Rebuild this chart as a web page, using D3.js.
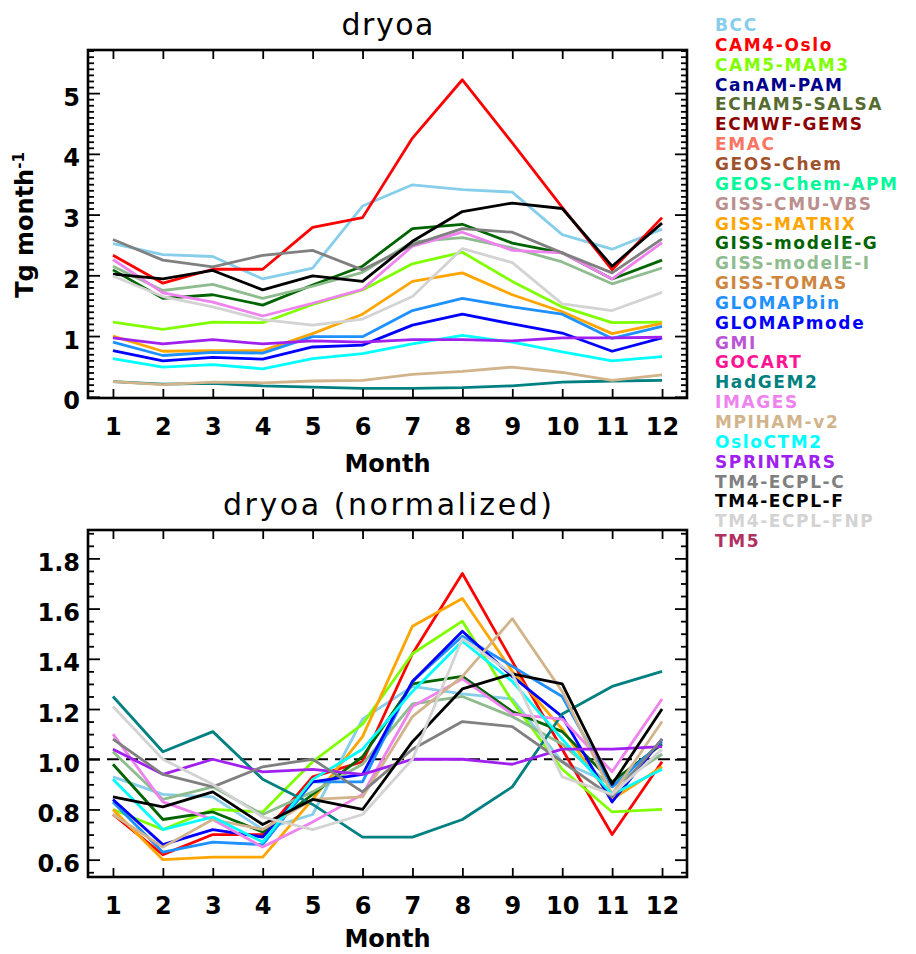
<!DOCTYPE html>
<meta charset="utf-8">
<style>
    body {
        margin: 0;
        background: #fff;
    }

    text {
        font-family: "DejaVu Sans", sans-serif;
        fill: #000;
    }

    .axis path {
        display: none;
    }

    .axis line {
        stroke: #000;
        stroke-width: 1.8;
    }

    .axis .tick text {
        font-size: 24px;
        font-weight: bold;
    }

    .frame {
        fill: none;
        stroke: #000;
        stroke-width: 2.6;
    }

    .series {
        fill: none;
        stroke-width: 2.8;
        stroke-linejoin: round;
    }
</style>

<body>
    <svg width="916" height="954"></svg>
    <script src="https://cdn.jsdelivr.net/npm/d3@7"></script>
    <script>
        // months on the x axis
        var months = [1, 2, 3, 4, 5, 6, 7, 8, 9, 10, 11, 12];

        // legend (all models) and their colours
        var modelNames = ["BCC", "CAM4-Oslo", "CAM5-MAM3", "CanAM-PAM", "ECHAM5-SALSA", "ECMWF-GEMS",
            "EMAC", "GEOS-Chem", "GEOS-Chem-APM", "GISS-CMU-VBS", "GISS-MATRIX", "GISS-modelE-G",
            "GISS-modelE-I", "GISS-TOMAS", "GLOMAPbin", "GLOMAPmode", "GMI", "GOCART", "HadGEM2",
            "IMAGES", "MPIHAM-v2", "OsloCTM2", "SPRINTARS", "TM4-ECPL-C", "TM4-ECPL-F", "TM4-ECPL-FNP", "TM5"
        ];
        var modelColors = ["#87ceeb", "#ff0000", "#7fff00", "#00008b", "#556b2f", "#8b0000",
            "#fa7464", "#a0522d", "#00fa9a", "#bc8f8f", "#ffa500", "#006400",
            "#8fbc8f", "#cd853f", "#1e90ff", "#0000ff", "#ba55d3", "#ff1493", "#008080",
            "#ee82ee", "#d2b48c", "#00ffff", "#a020f0", "#808080", "#000000", "#d3d3d3", "#b03060"
        ];

        // monthly dryoa, Tg month-1 (top panel)
        var bcc = [2.52, 2.34, 2.31, 1.94, 2.12, 3.14, 3.49, 3.41, 3.37, 2.67, 2.43, 2.76];
        var cam4 = [2.33, 1.87, 2.10, 2.10, 2.79, 2.95, 4.26, 5.22, 4.18, 3.12, 2.09, 2.95];
        var cam5 = [1.23, 1.11, 1.23, 1.22, 1.52, 1.76, 2.19, 2.38, 1.90, 1.48, 1.22, 1.23];
        var gissMatrix = [1.00, 0.75, 0.76, 0.76, 1.04, 1.36, 1.90, 2.04, 1.68, 1.40, 1.04, 1.21];
        var gissG = [2.09, 1.62, 1.68, 1.51, 1.84, 2.15, 2.77, 2.84, 2.53, 2.37, 1.94, 2.25];
        var gissI = [2.15, 1.75, 1.85, 1.62, 1.82, 2.05, 2.55, 2.62, 2.45, 2.22, 1.86, 2.12];
        var glomapBin = [0.90, 0.68, 0.73, 0.72, 0.99, 0.99, 1.42, 1.62, 1.48, 1.36, 0.96, 1.16];
        var glomapMode = [0.76, 0.59, 0.65, 0.62, 0.82, 0.85, 1.18, 1.36, 1.20, 1.05, 0.75, 0.97];
        var hadgem = [0.25, 0.21, 0.22, 0.18, 0.16, 0.14, 0.14, 0.15, 0.18, 0.24, 0.26, 0.27];
        var images = [2.26, 1.71, 1.56, 1.33, 1.54, 1.77, 2.48, 2.71, 2.41, 2.37, 1.94, 2.54];
        var mpiham = [0.25, 0.20, 0.24, 0.23, 0.26, 0.27, 0.37, 0.42, 0.49, 0.40, 0.27, 0.36];
        var osloCtm = [0.63, 0.49, 0.53, 0.46, 0.63, 0.71, 0.87, 1.01, 0.90, 0.74, 0.59, 0.66];
        var sprintars = [0.97, 0.87, 0.94, 0.87, 0.92, 0.90, 0.94, 0.94, 0.92, 0.97, 0.97, 0.98];
        var tm4C = [2.59, 2.25, 2.14, 2.33, 2.41, 2.09, 2.50, 2.77, 2.71, 2.37, 2.04, 2.60];
        var tm4F = [2.02, 1.94, 2.08, 1.76, 1.99, 1.90, 2.56, 3.05, 3.19, 3.10, 2.15, 2.86];
        var tm4Fnp = [1.99, 1.65, 1.48, 1.27, 1.18, 1.28, 1.65, 2.44, 2.21, 1.53, 1.42, 1.72];

        // normalized by annual mean (bottom panel)
        var bccNorm = [0.93, 0.86, 0.85, 0.72, 0.78, 1.16, 1.29, 1.26, 1.24, 0.99, 0.90, 1.02];
        var cam4Norm = [0.78, 0.62, 0.70, 0.70, 0.93, 0.99, 1.42, 1.74, 1.39, 1.04, 0.70, 0.99];
        var cam5Norm = [0.80, 0.72, 0.80, 0.79, 0.99, 1.14, 1.42, 1.55, 1.23, 0.96, 0.79, 0.80];
        var gissMatrixNorm = [0.80, 0.60, 0.61, 0.61, 0.84, 1.09, 1.53, 1.64, 1.35, 1.12, 0.84, 0.97];
        var gissGNorm = [0.98, 0.76, 0.79, 0.71, 0.86, 1.01, 1.30, 1.33, 1.19, 1.11, 0.91, 1.06];
        var gissINorm = [1.03, 0.84, 0.89, 0.78, 0.87, 0.98, 1.22, 1.25, 1.17, 1.06, 0.89, 1.02];
        var glomapBinNorm = [0.83, 0.63, 0.67, 0.66, 0.91, 0.91, 1.31, 1.49, 1.37, 1.25, 0.89, 1.07];
        var glomapModeNorm = [0.84, 0.66, 0.72, 0.69, 0.91, 0.94, 1.31, 1.51, 1.33, 1.17, 0.83, 1.08];
        var hadgemNorm = [1.25, 1.03, 1.11, 0.92, 0.82, 0.69, 0.69, 0.76, 0.89, 1.18, 1.29, 1.35];
        var imagesNorm = [1.10, 0.83, 0.76, 0.65, 0.75, 0.86, 1.21, 1.32, 1.18, 1.16, 0.95, 1.24];
        var mpihamNorm = [0.78, 0.65, 0.76, 0.72, 0.84, 0.85, 1.17, 1.33, 1.56, 1.27, 0.86, 1.15];
        var osloCtmNorm = [0.92, 0.72, 0.77, 0.67, 0.92, 1.04, 1.27, 1.47, 1.31, 1.08, 0.86, 0.96];
        var sprintarsNorm = [1.04, 0.94, 1.00, 0.95, 0.96, 0.94, 1.00, 1.00, 0.98, 1.04, 1.04, 1.05];
        var tm4CNorm = [1.08, 0.94, 0.89, 0.97, 1.00, 0.87, 1.04, 1.15, 1.13, 0.99, 0.85, 1.08];
        var tm4FNorm = [0.85, 0.81, 0.87, 0.74, 0.84, 0.80, 1.07, 1.28, 1.34, 1.30, 0.90, 1.20];
        var tm4FnpNorm = [1.21, 1.00, 0.90, 0.77, 0.72, 0.78, 1.00, 1.48, 1.34, 0.93, 0.86, 1.04];

        // models that have data, in legend (drawing) order
        var plotted = [
            ["BCC", bcc, bccNorm],
            ["CAM4-Oslo", cam4, cam4Norm],
            ["CAM5-MAM3", cam5, cam5Norm],
            ["GISS-MATRIX", gissMatrix, gissMatrixNorm],
            ["GISS-modelE-G", gissG, gissGNorm],
            ["GISS-modelE-I", gissI, gissINorm],
            ["GLOMAPbin", glomapBin, glomapBinNorm],
            ["GLOMAPmode", glomapMode, glomapModeNorm],
            ["HadGEM2", hadgem, hadgemNorm],
            ["IMAGES", images, imagesNorm],
            ["MPIHAM-v2", mpiham, mpihamNorm],
            ["OsloCTM2", osloCtm, osloCtmNorm],
            ["SPRINTARS", sprintars, sprintarsNorm],
            ["TM4-ECPL-C", tm4C, tm4CNorm],
            ["TM4-ECPL-F", tm4F, tm4FNorm],
            ["TM4-ECPL-FNP", tm4Fnp, tm4FnpNorm]
        ];

        var topTicks = [0, 1, 2, 3, 4, 5];
        var bottomTicks = [0.6, 0.8, 1.0, 1.2, 1.4, 1.6, 1.8];

        var svg = d3.select("svg");
        var left = 88,
            right = 687;

        var xScale = d3.scaleLinear().domain([0.5, 12.5]).range([left, right]);

        function colorOf(name) {
            return modelColors[modelNames.indexOf(name)];
        }

        function drawPanel(opt) {
            var yScale = d3.scaleLinear().domain(opt.domain).range([opt.bottom, opt.top]);
            var g = svg.append("g");

            // dashed reference line goes under the model lines
            if (opt.refLine) {
                g.append("line")
                    .attr("x1", left).attr("x2", right)
                    .attr("y1", yScale(1)).attr("y2", yScale(1))
                    .attr("stroke", "#000")
                    .attr("stroke-width", 2.2)
                    .attr("stroke-dasharray", "12,7");
            }

            var line = d3.line()
                .x(function(d, i) { return xScale(months[i]); })
                .y(function(d) { return yScale(d); });

            plotted.forEach(function(p) {
                g.append("path")
                    .attr("class", "series")
                    .attr("stroke", colorOf(p[0]))
                    .attr("d", line(p[opt.key]));
            });

            // minor y ticks
            var minor = d3.range(opt.minorStart, opt.domain[1], opt.minorStep)
                .filter(function(v) {
                    return opt.ticks.every(function(t) { return Math.abs(t - v) > 1e-6; });
                });

            g.append("g").attr("class", "axis")
                .attr("transform", "translate(" + left + ",0)")
                .call(d3.axisLeft(yScale).tickValues(minor).tickSize(-6).tickFormat(""));
            g.append("g").attr("class", "axis")
                .attr("transform", "translate(" + right + ",0)")
                .call(d3.axisRight(yScale).tickValues(minor).tickSize(-6).tickFormat(""));

            // major y ticks
            var yAxis = g.append("g").attr("class", "axis")
                .attr("transform", "translate(" + left + ",0)")
                .call(d3.axisLeft(yScale).tickValues(opt.ticks).tickSize(-12).tickPadding(8)
                    .tickFormat(d3.format(opt.format)));
            yAxis.selectAll("text").attr("dy", "0.5em");
            g.append("g").attr("class", "axis")
                .attr("transform", "translate(" + right + ",0)")
                .call(d3.axisRight(yScale).tickValues(opt.ticks).tickSize(-12).tickFormat(""));

            // x ticks
            g.append("g").attr("class", "axis")
                .attr("transform", "translate(0," + opt.bottom + ")")
                .call(d3.axisBottom(xScale).tickValues(months).tickSize(-9).tickPadding(20)
                    .tickFormat(d3.format("d")));
            g.append("g").attr("class", "axis")
                .attr("transform", "translate(0," + opt.top + ")")
                .call(d3.axisTop(xScale).tickValues(months).tickSize(-9).tickFormat(""));

            g.append("rect")
                .attr("class", "frame")
                .attr("x", left).attr("y", opt.top)
                .attr("width", right - left).attr("height", opt.bottom - opt.top);

            g.append("text")
                .attr("x", (left + right) / 2)
                .attr("y", opt.top - 15)
                .attr("text-anchor", "middle")
                .attr("textLength", opt.titleWidth)
                .attr("lengthAdjust", "spacing")
                .style("font-size", "30px")
                .text(opt.title);

            g.append("text")
                .attr("x", (left + right) / 2)
                .attr("y", opt.bottom + opt.labelGap)
                .attr("text-anchor", "middle")
                .style("font-size", "24px")
                .style("font-weight", "bold")
                .text("Month");

            return yScale;
        }

        drawPanel({
            top: 50, bottom: 398, domain: [-0.02, 5.71], key: 1,
            ticks: topTicks, minorStart: 0.1, minorStep: 0.1, format: "d",
            title: "dryoa", titleWidth: 92, labelGap: 74
        });

        drawPanel({
            top: 530, bottom: 877, domain: [0.531, 1.913], key: 2, refLine: true,
            ticks: bottomTicks, minorStart: 0.55, minorStep: 0.05, format: ".1f",
            title: "dryoa (normalized)", titleWidth: 329, labelGap: 70
        });

        // y label of the top panel
        var ylab = svg.append("text")
            .attr("transform", "translate(33,225) rotate(-90)")
            .attr("text-anchor", "middle")
            .style("font-size", "24px")
            .style("font-weight", "bold");
        ylab.append("tspan").text("Tg month");
        ylab.append("tspan").attr("dy", -9).style("font-size", "15px").text("-1");

        // legend
        svg.append("g").selectAll("text")
            .data(modelNames)
            .enter().append("text")
            .attr("x", 715)
            .attr("y", function(d, i) { return 31 + i * 19.85; })
            .style("fill", function(d, i) { return modelColors[i]; })
            .style("font-size", "17px")
            .style("font-weight", "bold")
            .style("letter-spacing", "1.6px")
            .text(function(d) { return d; });
    </script>
</body>
